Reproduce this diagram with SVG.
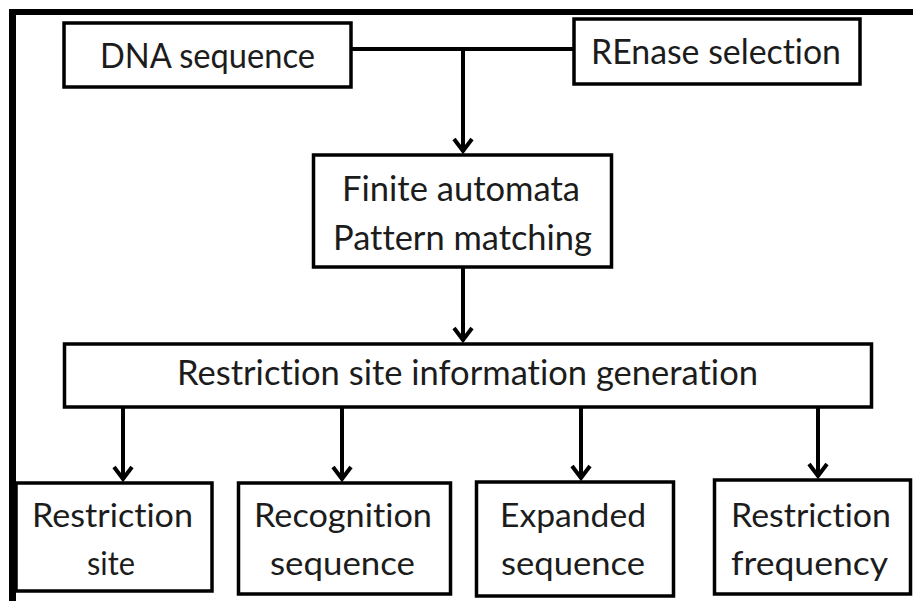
<svg xmlns="http://www.w3.org/2000/svg" width="913" height="601" viewBox="0 0 913 601">
  <defs>
    <marker id="arr" markerUnits="userSpaceOnUse" markerWidth="30" markerHeight="30" viewBox="-20 -15 30 30" refX="0" refY="0" orient="auto" overflow="visible">
      <path d="M -13 -9 L -1 0 L -13 9" fill="none" stroke="#000" stroke-width="4" stroke-linejoin="miter"/>
    </marker>
  </defs>
  <style>
    .box { fill: #fff; stroke: #000; stroke-width: 3.5; }
    .t { font-family: Lato, "Open Sans", "Liberation Sans", sans-serif; fill: #1c1c1c; text-anchor: start; font-variant-ligatures: none; font-feature-settings: "liga" 0, "clig" 0; }
    .big { font-size: 35px; }
    .sm { font-size: 33px; }
    .c { stroke: #000; stroke-width: 4; fill: none; }
  </style>
  <rect x="0" y="0" width="913" height="601" fill="#fff"/>
  <g id="frame">
    <rect x="9" y="9" width="904" height="6" fill="#000"/>
    <rect x="9" y="9" width="7" height="592" fill="#000"/>
  </g>
  <g id="connectors">
    <line class="c" x1="352" y1="49" x2="573" y2="49"/>
    <line class="c" x1="463" y1="49" x2="463" y2="152" marker-end="url(#arr)"/>
    <line class="c" x1="463" y1="268" x2="463" y2="341" marker-end="url(#arr)"/>
    <line class="c" x1="123" y1="408" x2="123" y2="480" marker-end="url(#arr)"/>
    <line class="c" x1="342" y1="408" x2="342" y2="480" marker-end="url(#arr)"/>
    <line class="c" x1="581" y1="408" x2="581" y2="479" marker-end="url(#arr)"/>
    <line class="c" x1="818" y1="408" x2="818" y2="477" marker-end="url(#arr)"/>
  </g>
  <g id="dna">
    <rect class="box" x="64" y="23" width="287" height="64"/>
    <text class="t big" x="100" y="68" textLength="215" lengthAdjust="spacingAndGlyphs">DNA sequence</text>
  </g>
  <g id="renase">
    <rect class="box" x="574" y="19" width="286" height="65"/>
    <text class="t big" x="591" y="64" textLength="250" lengthAdjust="spacingAndGlyphs">REnase selection</text>
  </g>
  <g id="finite">
    <rect class="box" x="313.5" y="155" width="298" height="112"/>
    <text class="t big" x="342" y="201" textLength="238" lengthAdjust="spacingAndGlyphs">Finite automata</text>
    <text class="t big" x="333" y="250" textLength="259" lengthAdjust="spacingAndGlyphs">Pattern matching</text>
  </g>
  <g id="info">
    <rect class="box" x="64.5" y="344" width="807" height="63"/>
    <text class="t big" x="177" y="385" textLength="581" lengthAdjust="spacingAndGlyphs">Restriction site information generation</text>
  </g>
  <g id="restriction-site">
    <rect class="box" x="16" y="483" width="196" height="108"/>
    <text class="t sm" x="32" y="527" textLength="161" lengthAdjust="spacingAndGlyphs">Restriction</text>
    <text class="t sm" x="87" y="575" textLength="48" lengthAdjust="spacingAndGlyphs">site</text>
  </g>
  <g id="recognition-sequence">
    <rect class="box" x="238.5" y="483" width="212" height="111"/>
    <text class="t sm" x="254" y="527" textLength="178" lengthAdjust="spacingAndGlyphs">Recognition</text>
    <text class="t sm" x="270" y="575" textLength="145" lengthAdjust="spacingAndGlyphs">sequence</text>
  </g>
  <g id="expanded-sequence">
    <rect class="box" x="476.5" y="482" width="197" height="114"/>
    <text class="t sm" x="500" y="527" textLength="146" lengthAdjust="spacingAndGlyphs">Expanded</text>
    <text class="t sm" x="501" y="575" textLength="144" lengthAdjust="spacingAndGlyphs">sequence</text>
  </g>
  <g id="restriction-frequency">
    <rect class="box" x="714.5" y="480" width="196" height="114"/>
    <text class="t sm" x="731" y="527" textLength="160" lengthAdjust="spacingAndGlyphs">Restriction</text>
    <text class="t sm" x="731" y="575" textLength="157" lengthAdjust="spacingAndGlyphs">frequency</text>
  </g>
</svg>
